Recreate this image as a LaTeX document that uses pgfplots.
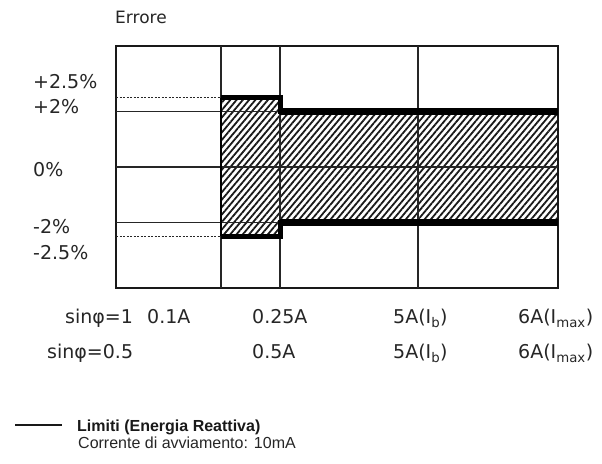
\documentclass[border=0pt]{standalone}
\usepackage{fontspec}
\setmainfont{Liberation Sans}
\newfontfamily\dv{DejaVu Sans}
\usepackage{pgfplots}
\pgfplotsset{compat=1.18}
\usetikzlibrary{patterns.meta}
\definecolor{txt}{gray}{0.15}
\begin{document}
\begin{tikzpicture}
\useasboundingbox (0,0) rectangle (602bp,464bp);
\begin{axis}[at={(116bp,176bp)}, anchor=south west, scale only axis,
  width=442bp, height=242bp, xmin=0, xmax=442, ymin=-4.36, ymax=4.36,
  axis line style={line width=2bp, black!90}, xtick=\empty, ytick=\empty, clip=false]
% hatched tolerance band
\addplot[draw=none, pattern={Lines[angle=50,distance=4.8bp,line width=1.8bp]}, pattern color=black!90]
  coordinates {(105,-2.5) (105,2.5) (164,2.5) (164,2) (442,2) (442,-2) (164,-2) (164,-2.5)} -- cycle;
% grid
\draw[line width=1.6bp, black!85] (axis cs:105,-4.36) -- (axis cs:105,4.36);
\draw[line width=1.6bp, black!85] (axis cs:164,-4.36) -- (axis cs:164,4.36);
\draw[line width=1.6bp, black!85] (axis cs:302,-4.36) -- (axis cs:302,4.36);
\draw[line width=1.6bp, black!85] (axis cs:0,2) -- (axis cs:442,2);
\draw[line width=1.6bp, black!85] (axis cs:0,0) -- (axis cs:442,0);
\draw[line width=1.6bp, black!85] (axis cs:0,-2) -- (axis cs:442,-2);
\draw[line width=1.2bp, black!85, dash pattern=on 2bp off 1.5bp] (axis cs:0,2.5) -- (axis cs:105,2.5);
\draw[line width=1.2bp, black!85, dash pattern=on 2bp off 1.5bp] (axis cs:0,-2.5) -- (axis cs:105,-2.5);
% limits
\addplot[black, line width=2.8bp] coordinates {(105,-2.5) (105,2.5)};
\addplot[black, line width=5bp, line join=miter] coordinates {(105,2.5) (164,2.5) (164,2) (442,2)};
\addplot[black, line width=7.5bp] coordinates {(164,2) (442,2)};
\addplot[black, line width=5bp, line join=miter] coordinates {(105,-2.5) (164,-2.5) (164,-2) (442,-2)};
\addplot[black, line width=6.5bp] coordinates {(164,-2) (442,-2)};
\end{axis}
% title
\node[anchor=base west, inner sep=0, text=txt] at (115bp,440bp) {\dv\fontsize{17bp}{20bp}\selectfont Errore};
% y labels
\begin{scope}[every node/.style={anchor=base west, inner sep=0, text=txt, font=\dv\fontsize{19bp}{22bp}\selectfont}]
\node at (33bp,375bp) {+2.5\%};
\node at (33bp,350bp) {+2\%};
\node at (33bp,287bp) {0\%};
\node at (33bp,230bp) {-2\%};
\node at (33bp,204bp) {-2.5\%};
% x label rows
\node at (65bp,140bp) {sinφ=1};
\node at (147bp,140bp) {0.1A};
\node at (252bp,140bp) {0.25A};
\node at (393bp,140bp) {5A(I\textsubscript{b})};
\node at (518bp,140bp) {6A(I\textsubscript{max})};
\node at (47bp,105bp) {sinφ=0.5};
\node at (252bp,105bp) {0.5A};
\node at (393bp,105bp) {5A(I\textsubscript{b})};
\node at (518bp,105bp) {6A(I\textsubscript{max})};
\end{scope}
% legend
\draw[line width=1.8bp, black!90] (15bp,39bp) -- (62bp,39bp);
\node[anchor=base west, inner sep=0, text=black!90, font=\bfseries\fontsize{16bp}{19bp}\selectfont] at (77bp,33bp) {Limiti (Energia Reattiva)};
\node[anchor=base west, inner sep=0, text=txt, font=\fontsize{16bp}{19bp}\selectfont] at (78bp,16bp) {Corrente di avviamento: 10mA};
\end{tikzpicture}
\end{document}
